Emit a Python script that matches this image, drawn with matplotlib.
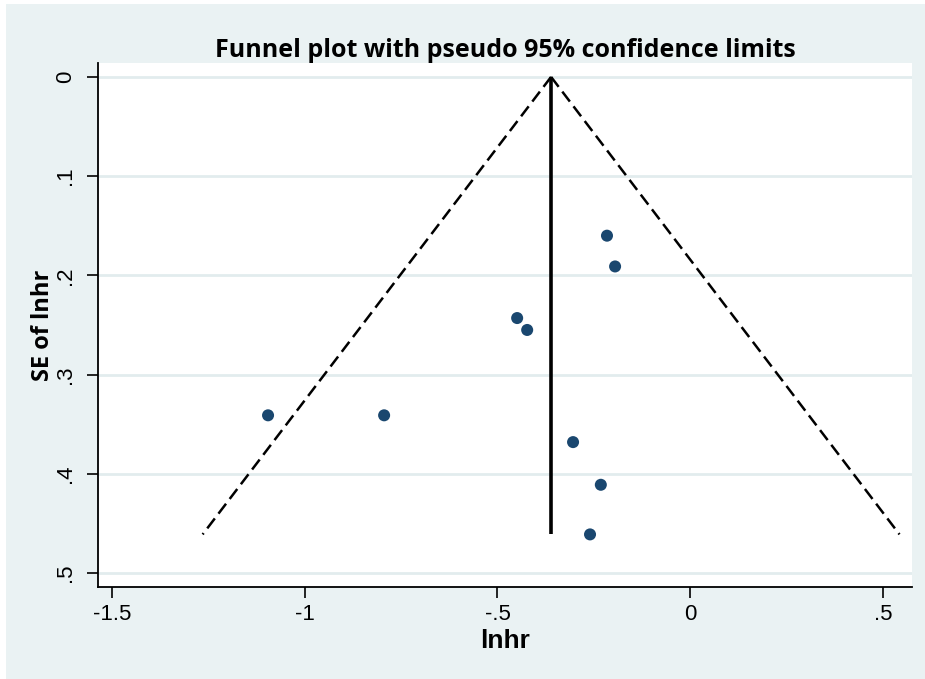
import numpy as np
import matplotlib
matplotlib.use("Agg")
import matplotlib.pyplot as plt
from matplotlib import font_manager
from matplotlib.patches import Rectangle

# study estimates
lnhr = [-0.216, -0.195, -0.449, -0.423, -1.095, -0.794, -0.304, -0.232, -0.260]
se_lnhr = [0.160, 0.191, 0.243, 0.255, 0.341, 0.341, 0.368, 0.411, 0.461]
pooled = -0.361
se_max = 0.461

x_ticks = [-1.5, -1, -0.5, 0, 0.5]
x_tick_labels = ["-1.5", "-1", "-.5", "0", ".5"]
y_ticks = [0, 0.1, 0.2, 0.3, 0.4, 0.5]
y_tick_labels = ["0", ".1", ".2", ".3", ".4", ".5"]

installed = {f.name for f in font_manager.fontManager.ttflist}
narrow = "Liberation Sans Narrow" if "Liberation Sans Narrow" in installed else "Liberation Sans"

bg = "#EAF2F3"
navy = "#1A476F"

fig = plt.figure(figsize=(9.25, 6.79), dpi=100)
fig.patch.set_facecolor("white")
fig.patches.append(Rectangle((6 / 925, 0), 1, 1 - 4 / 679, transform=fig.transFigure,
                             facecolor=bg, edgecolor="none", zorder=-10))

ax = fig.add_axes([98 / 925, 1 - 587 / 679, (912 - 98) / 925, (587 - 63) / 679])
ax.set_facecolor("white")

for y in y_ticks:
    ax.axhline(y, color="#E2ECEE", lw=2, zorder=0)

# pseudo 95% limits
se_line = np.array([0, se_max])
ax.plot(pooled - 1.96 * se_line, se_line, color="black", lw=1.8, dashes=(5, 2.4))
ax.plot(pooled + 1.96 * se_line, se_line, color="black", lw=1.8, dashes=(5, 2.4))
ax.plot([pooled, pooled], [0, se_max], color="black", lw=2.6, solid_capstyle="butt")

ax.scatter(lnhr, se_lnhr, s=75, color=navy, edgecolors="none", zorder=3)

ax.set_xlim(-1.536, 0.575)
ax.set_ylim(0.514, -0.014)

ax.set_xticks(x_ticks)
ax.set_xticklabels(x_tick_labels, fontfamily=narrow, fontsize=16)
ax.set_yticks(y_ticks)
ax.set_yticklabels(y_tick_labels, fontfamily=narrow, fontsize=16, rotation=90, va="center")
ax.tick_params(length=8, width=1.2)
ax.tick_params(axis="x", pad=4)
ax.tick_params(axis="y", pad=8)

for side in ["top", "right"]:
    ax.spines[side].set_visible(False)
for side in ["left", "bottom"]:
    ax.spines[side].set_linewidth(1.3)

ax.set_xlabel("lnhr", fontfamily=narrow, fontweight="bold", fontsize=19, labelpad=3)
ax.set_ylabel("SE of lnhr", fontfamily="Open Sans", fontweight="bold", fontsize=17, labelpad=0)
ax.set_title("Funnel plot with pseudo 95% confidence limits", fontfamily="Open Sans",
             fontweight="bold", fontsize=18, pad=4)

fig.savefig("out.png", dpi=100, facecolor=fig.get_facecolor())
